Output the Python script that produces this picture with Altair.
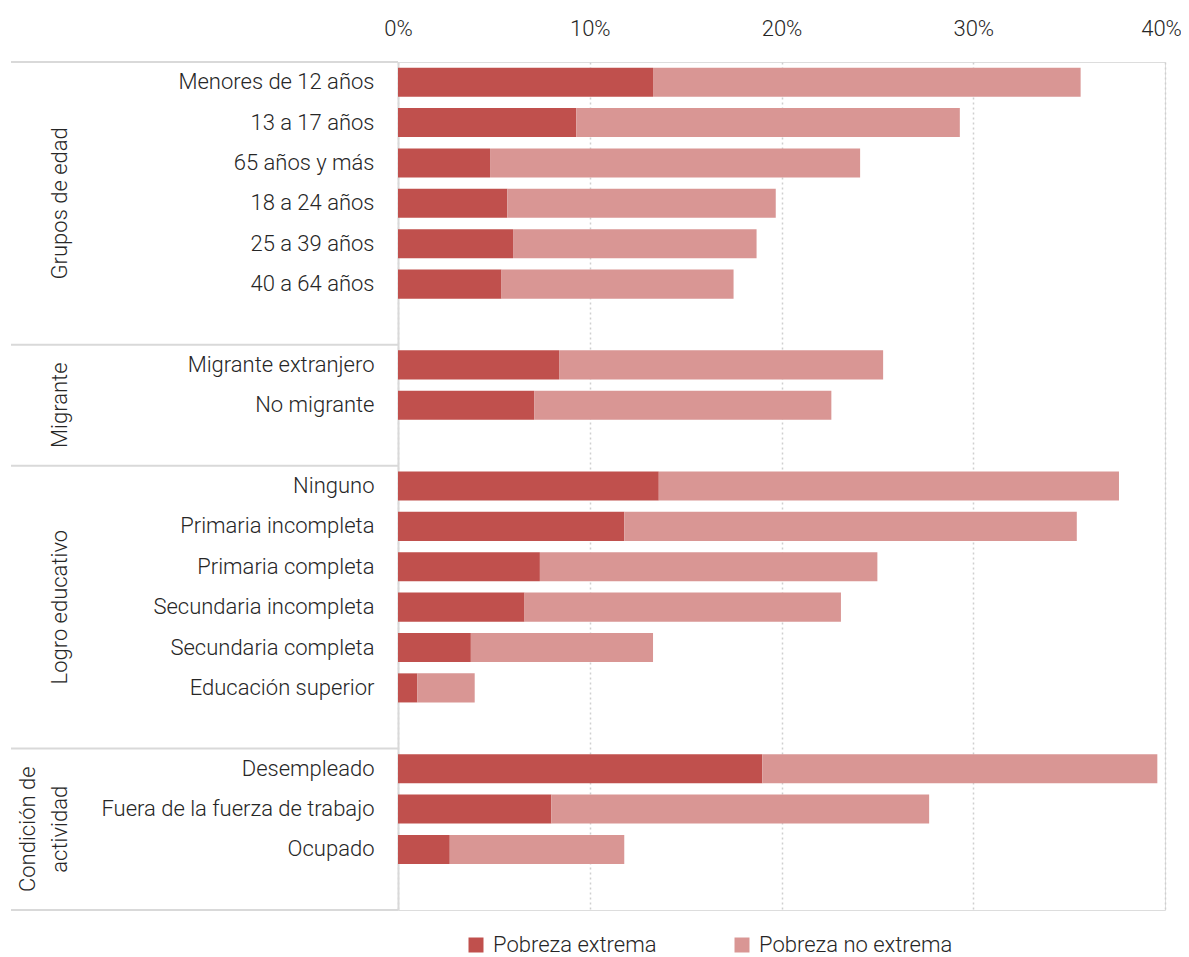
import altair as alt
import pandas as pd

# ---- data (percent) ----
group_names = ["Grupos de edad", "Migrante", "Logro educativo", "Condición de\nactividad"]

edad_cats = ["Menores de 12 años", "13 a 17 años", "65 años y más ", "18 a 24 años", "25 a 39 años", "40 a 64 años"]
edad_ext = [13.3, 9.3, 4.8, 5.7, 6.0, 5.4]
edad_noext = [22.3, 20.0, 19.3, 14.0, 12.7, 12.1]

migr_cats = ["Migrante extranjero", "No migrante"]
migr_ext = [8.4, 7.1]
migr_noext = [16.9, 15.5]

educ_cats = ["Ninguno", "Primaria incompleta", "Primaria completa", "Secundaria incompleta",
             "Secundaria completa", "Educación superior"]
educ_ext = [13.6, 11.8, 7.4, 6.6, 3.8, 1.0]
educ_noext = [24.0, 23.6, 17.6, 16.5, 9.5, 3.0]

act_cats = ["Desempleado", "Fuera de la fuerza de trabajo", "Ocupado"]
act_ext = [19.0, 8.0, 2.7]
act_noext = [20.6, 19.7, 9.1]

series = ["Pobreza extrema", "Pobreza no extrema"]
colors = ["#C0504D", "#D99694"]
x_ticks = [0, 0.1, 0.2, 0.3, 0.4]

groups = [
    (edad_cats, edad_ext, edad_noext),
    (migr_cats, migr_ext, migr_noext),
    (educ_cats, educ_ext, educ_noext),
    (act_cats, act_ext, act_noext),
]

# ---- build tables ----
keys = []
bar_rows = []
grp_rows = []
bounds = []
blank = 0
for gname, (cats, ext, noext) in zip(group_names, groups):
    start = len(keys)
    bounds.append(start)
    for c, e, n in zip(cats, ext, noext):
        keys.append(c)
        bar_rows.append({"key": c, "tipo": series[0], "valor": e / 100, "orden": 0})
        bar_rows.append({"key": c, "tipo": series[1], "valor": n / 100, "orden": 1})
    blank += 1
    keys.append(" " * blank)
    end = len(keys)
    grp_rows.append({"grupo": gname, "mid": (start + end) / 2,
                     "nlines": gname.count("\n") + 1})
total_rows = len(keys)
bounds.append(total_rows)

bars_df = pd.DataFrame(bar_rows)
grp_df = pd.DataFrame(grp_rows)
bnd_df = pd.DataFrame({"b": bounds})

FONT = "Roboto"
FW = 300
FS = 22
TXT = "#262626"
H = 848
W = 767
LH = 32

bars = alt.Chart(bars_df).mark_bar(height={"band": 0.72}).encode(
    x=alt.X("valor:Q", stack="zero",
            scale=alt.Scale(domain=[0, 0.4], nice=False),
            axis=alt.Axis(orient="top", format=".0%", values=x_ticks, title=None,
                          domain=False, ticks=False, labelPadding=22, labelFlush=False,
                          labelOffset={"condition": {"test": "datum.value >= 0.4", "value": -4},
                                       "value": 0},
                          labelFontSize=FS, labelColor=TXT, labelFont=FONT, labelFontWeight=FW,
                          grid=True, gridDash=[2, 3], gridColor="#cfcfcf", gridWidth=1.5)),
    y=alt.Y("key:N", scale=alt.Scale(domain=keys, paddingInner=0, paddingOuter=0),
            axis=alt.Axis(title=None, ticks=False, tickSize=0, labelPadding=24, labelLimit=400,
                          labelFontSize=FS, labelColor=TXT, labelFont=FONT, labelFontWeight=FW,
                          domain=True, domainColor="#d9d9d9", domainWidth=2,
                          grid=False)),
    color=alt.Color("tipo:N", scale=alt.Scale(domain=series, range=colors),
                    legend=alt.Legend(title=None, orient="none", legendX=67, legendY=872,
                                      direction="horizontal", symbolType="square",
                                      symbolSize=225, symbolStrokeWidth=0, labelLimit=400,
                                      labelFontSize=FS, labelFont=FONT, labelColor=TXT,
                                      labelFontWeight=FW, columnPadding=74, labelOffset=6)),
    order=alt.Order("orden:Q"),
)

yq = alt.Scale(domain=[0, total_rows], reverse=True, nice=False, zero=False)

rules = alt.Chart(bnd_df).mark_rule(color="#d9d9d9", strokeWidth=2).encode(
    y=alt.Y("b:Q", scale=yq, axis=None),
    x=alt.value(-387),
    x2=alt.value(0),
)

glabel_base = alt.Chart(grp_df).encode(
    y=alt.Y("mid:Q", scale=yq, axis=None),
    x=alt.value(-331),
    text="grupo:N",
)
txt_style = dict(angle=270, align="center", baseline="alphabetic", lineBreak="\n",
                 fontSize=FS, font=FONT, fontWeight=FW, color=TXT, lineHeight=LH)
glabels1 = glabel_base.mark_text(**txt_style).transform_filter("datum.nlines == 1")
glabels2 = glabel_base.mark_text(dy=-LH, **txt_style).transform_filter("datum.nlines == 2")

chart = alt.layer(bars, rules, glabels1, glabels2).resolve_scale(y="independent").properties(
    width=W, height=H,
    autosize=alt.AutoSizeParams(type="none"),
    padding={"left": 390, "top": 54, "right": 16, "bottom": 52},
).configure_view(stroke=None).configure(font=FONT)

chart.save("out.html", embed_options={"renderer": "svg", "actions": False})
